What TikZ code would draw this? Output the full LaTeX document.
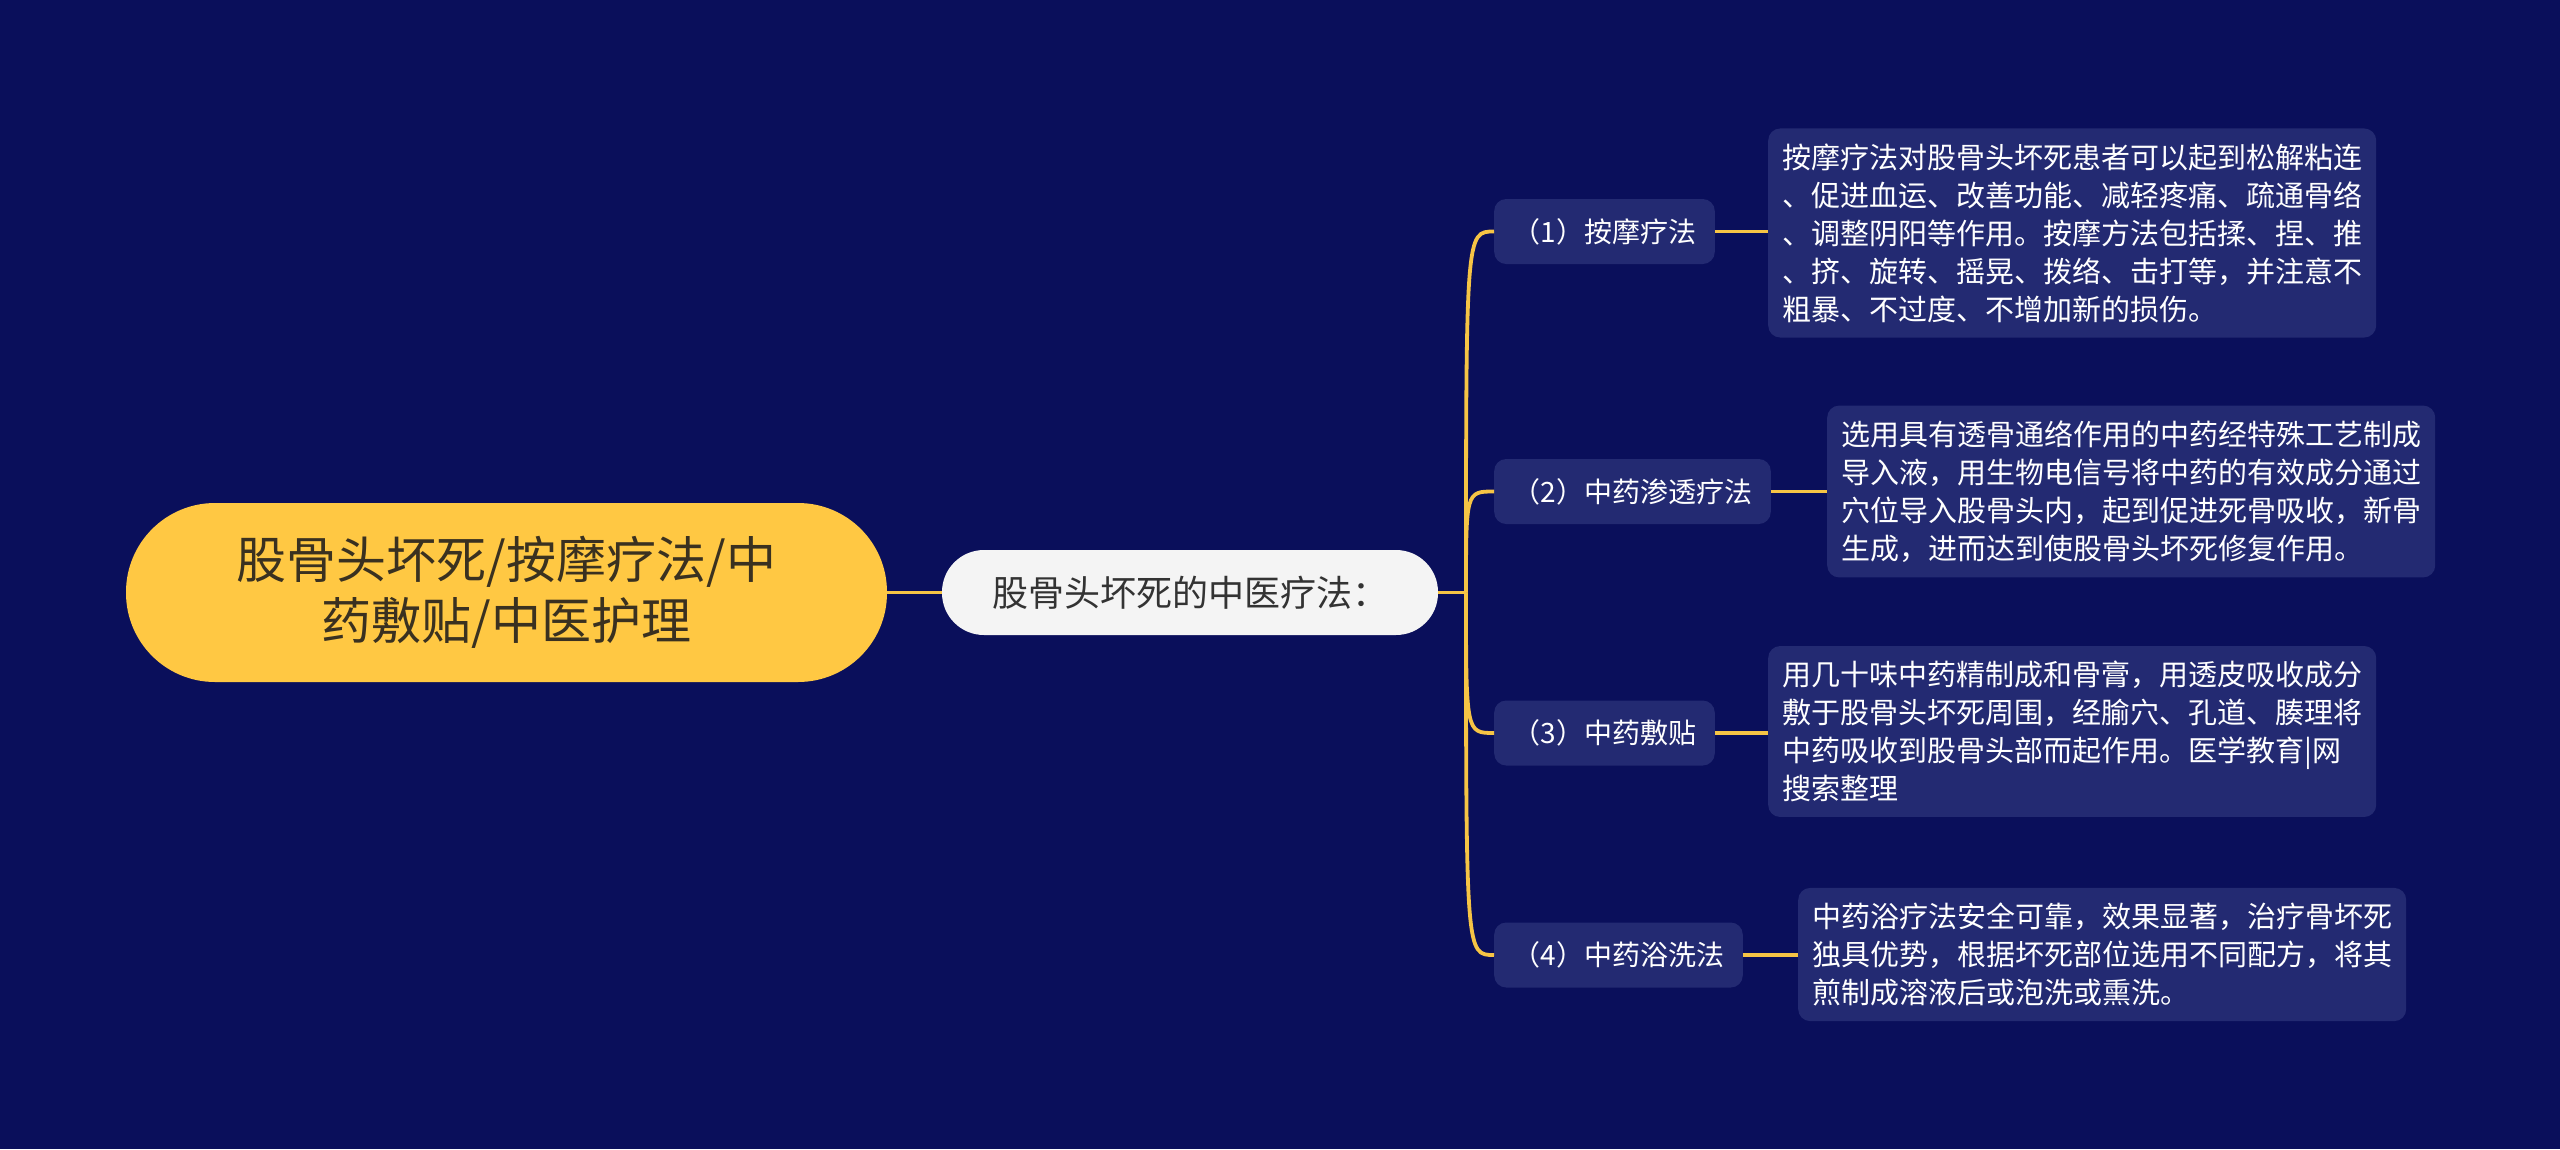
\documentclass[tikz,border=0pt]{standalone}
\usepackage{fontspec}
\setmainfont{Noto Sans CJK SC}
\definecolor{bg}{HTML}{0A0F5B}
\definecolor{boxblue}{HTML}{232A72}
\definecolor{rootyellow}{HTML}{FFC843}
\definecolor{roottext}{HTML}{3A3120}
\definecolor{linkyellow}{HTML}{F6C445}
\definecolor{midfill}{HTML}{F4F4F4}
\definecolor{midtext}{HTML}{333333}
\begin{document}
\begin{tikzpicture}[x=1pt,y=-1pt,
  rootbox/.style={fill=rootyellow, rounded corners=89pt, minimum width=761pt, minimum height=179pt,
    align=center, inner sep=0pt, text=roottext, font=\fontsize{50}{61}\selectfont},
  midbox/.style={fill=midfill, rounded corners=42pt, minimum width=496pt, minimum height=85pt,
    inner sep=0pt, text=midtext, font=\fontsize{36}{42}\selectfont},
  childbox/.style={fill=boxblue, rounded corners=12pt, minimum height=65pt, inner xsep=18.5pt,
    inner ysep=0pt, text=white, anchor=west, font=\fontsize{28}{34}\selectfont},
  leafbox/.style={fill=boxblue, rounded corners=12pt, inner xsep=14pt, inner ysep=15pt,
    align=left, text=white, anchor=west, font=\fontsize{29}{38}\selectfont},
  link/.style={draw=linkyellow, line width=3.8pt}
]
\fill[bg] (0,0) rectangle (2560,1149);
\useasboundingbox (0,0) rectangle (2560,1149);

\node[rootbox] (root) at (506.5,592.5) {股骨头坏死/按摩疗法/中\\药敷贴/中医护理};
\node[midbox] (mid) at (1190,592.5) {股骨头坏死的中医疗法：};
\coordinate (j) at (1466,592.5);

\node[childbox] (c1) at (1494,231.5) {（1）按摩疗法};
\node[childbox] (c2) at (1494,491.5) {（2）中药渗透疗法};
\node[childbox] (c3) at (1494,733) {（3）中药敷贴};
\node[childbox] (c4) at (1494,955) {（4）中药浴洗法};

\node[leafbox] (l1) at (1768,233) {按摩疗法对股骨头坏死患者可以起到松解粘连\\、促进血运、改善功能、减轻疼痛、疏通骨络\\、调整阴阳等作用。按摩方法包括揉、捏、推\\、挤、旋转、摇晃、拨络、击打等，并注意不\\粗暴、不过度、不增加新的损伤。};
\node[leafbox] (l2) at (1827,491.5) {选用具有透骨通络作用的中药经特殊工艺制成\\导入液，用生物电信号将中药的有效成分通过\\穴位导入股骨头内，起到促进死骨吸收，新骨\\生成，进而达到使股骨头坏死修复作用。};
\node[leafbox] (l3) at (1768,731.5) {用几十味中药精制成和骨膏，用透皮吸收成分\\敷于股骨头坏死周围，经腧穴、孔道、腠理将\\中药吸收到股骨头部而起作用。医学教育|网\\搜索整理};
\node[leafbox] (l4) at (1798,954.5) {中药浴疗法安全可靠，效果显著，治疗骨坏死\\独具优势，根据坏死部位选用不同配方，将其\\煎制成溶液后或泡洗或熏洗。};

\draw[link] (root.east) -- (mid.west);
\draw[link] (mid.east) -- (j);
\foreach \c in {c1,c2,c3,c4}{
  \draw[link] (j) .. controls (j |- \c.west) .. (\c.west);
}
\draw[link] (c1.east) -- (l1.west |- c1.east);
\draw[link] (c2.east) -- (l2.west |- c2.east);
\draw[link] (c3.east) -- (l3.west |- c3.east);
\draw[link] (c4.east) -- (l4.west |- c4.east);
\end{tikzpicture}
\end{document}
